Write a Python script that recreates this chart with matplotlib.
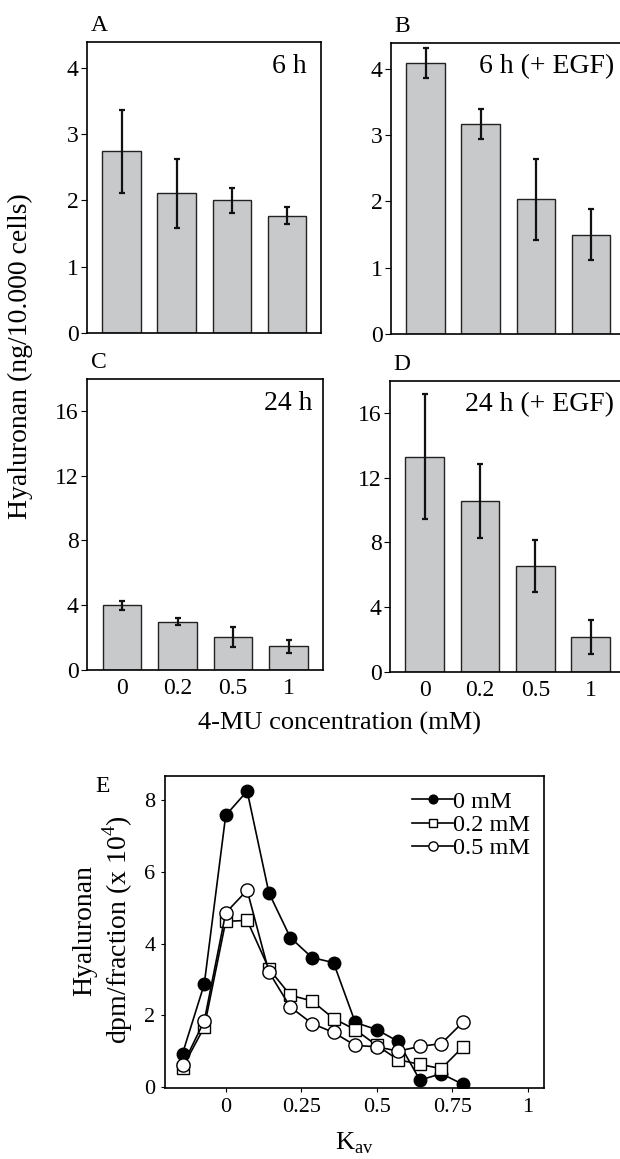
import matplotlib
matplotlib.use('Agg')
import matplotlib.pyplot as plt
import numpy as np

plt.rcParams['font.family'] = ['Liberation Serif', 'DejaVu Serif']

# bar panels A-D
conc_labels = ['0', '0.2', '0.5', '1']
a_vals = [2.74, 2.11, 2.0, 1.77]
a_err = [0.63, 0.52, 0.19, 0.13]
b_vals = [4.09, 3.17, 2.03, 1.50]
b_err = [0.23, 0.23, 0.61, 0.39]
c_vals = [3.99, 2.98, 2.04, 1.48]
c_err = [0.26, 0.22, 0.62, 0.40]
d_vals = [13.3, 10.56, 6.53, 2.16]
d_err = [3.85, 2.3, 1.6, 1.05]

# panel E, gel filtration profiles
kav = [-0.143, -0.071, 0.0, 0.071, 0.143, 0.214, 0.286, 0.357,
       0.429, 0.5, 0.571, 0.643, 0.714, 0.786]
hy_0 = [0.93, 2.87, 7.58, 8.26, 5.42, 4.17, 3.61, 3.47,
        1.80, 1.60, 1.27, 0.19, 0.37, 0.07]
hy_02 = [0.54, 1.67, 4.62, 4.65, 3.30, 2.56, 2.40, 1.91,
         1.60, 1.16, 0.76, 0.63, 0.51, 1.12]
hy_05 = [0.60, 1.84, 4.86, 5.49, 3.21, 2.23, 1.77, 1.52,
         1.16, 1.12, 1.0, 1.13, 1.21, 1.81]

W, H = 620, 1159
fig = plt.figure(figsize=(W / 100, H / 100), dpi=100)


def px_axes(left, right, top, bottom):
    return fig.add_axes([left / W, (H - bottom) / H, (right - left) / W, (bottom - top) / H])


def bar_panel(ax, vals, err, ylim, yticks, title, letter, xticks=False, tx=0.955):
    x = np.arange(len(vals))
    ax.bar(x, vals, width=0.7, color='#c8c9cb', edgecolor='#222222', linewidth=1.0)
    ax.errorbar(x, vals, yerr=err, fmt='none', ecolor='#111111', elinewidth=1.6,
                capsize=2, capthick=1.6)
    ax.set_xlim(-0.63, 3.62)
    ax.set_ylim(*ylim)
    ax.set_yticks(yticks)
    ax.tick_params(axis='y', direction='out', length=4, labelsize=17, pad=2)
    ax.tick_params(axis='x', length=0, labelsize=17, pad=6)
    ax.set_xticks(x)
    if xticks:
        ax.set_xticklabels(conc_labels)
    else:
        ax.set_xticklabels([])
    for s in ax.spines.values():
        s.set_linewidth(1.2)
    ax.text(tx, 0.895, title, transform=ax.transAxes, ha='right', va='baseline', fontsize=20)
    ax.text(0.015, 1.038, letter, transform=ax.transAxes, ha='left', va='baseline', fontsize=17)


ax_a = px_axes(87, 321, 42, 333)
bar_panel(ax_a, a_vals, a_err, (0, 4.39), [0, 1, 2, 3, 4], '6 h', 'A', tx=0.94)
ax_b = px_axes(391, 625, 43, 334)
bar_panel(ax_b, b_vals, b_err, (0, 4.39), [0, 1, 2, 3, 4], '6 h (+ EGF)', 'B')
ax_c = px_axes(87, 323, 379, 670)
bar_panel(ax_c, c_vals, c_err, (0, 17.97), [0, 4, 8, 12, 16], '24 h', 'C', xticks=True)
ax_d = px_axes(390, 625, 381, 672)
bar_panel(ax_d, d_vals, d_err, (0, 17.97), [0, 4, 8, 12, 16], '24 h (+ EGF)', 'D', xticks=True)

fig.text(20 / W, 1 - 356 / H, 'Hyaluronan (ng/10.000 cells)', rotation=90,
         ha='center', va='center', fontsize=20)
fig.text(339 / W, 1 - 723 / H, '4-MU concentration (mM)', ha='center', va='center', fontsize=19)

# panel E
ax_e = px_axes(165, 544, 776, 1088)
ax_e.plot(kav, hy_0, '-o', color='black', mfc='black', mec='black', ms=9, lw=1.2, label='0 mM')
ax_e.plot(kav, hy_02, '-s', color='black', mfc='white', mec='black', ms=8.5, lw=1.2, label='0.2 mM')
ax_e.plot(kav, hy_05, '-o', color='black', mfc='white', mec='black', ms=9.5, lw=1.2, label='0.5 mM')
ax_e.set_xlim(-0.201, 1.054)
ax_e.set_ylim(-0.03, 8.68)
ax_e.set_xticks([0, 0.25, 0.5, 0.75, 1])
ax_e.set_xticklabels(['0', '0.25', '0.5', '0.75', '1'])
ax_e.set_yticks([0, 2, 4, 6, 8])
ax_e.tick_params(direction='out', length=3, labelsize=16, pad=4)
for s in ax_e.spines.values():
    s.set_linewidth(1.2)
ax_e.legend(loc='upper left', bbox_to_anchor=((412 - 165) / 379, 0.952), frameon=False, fontsize=17.5,
            handlelength=1.7, handletextpad=0.0, labelspacing=0.05, borderpad=0.0,
            borderaxespad=0.0, markerscale=0.7)
ax_e.text(-0.185, 1.0, 'E', transform=ax_e.transAxes, ha='left', va='top', fontsize=17)
ax_e.set_xlabel('K$_{\\mathregular{av}}$', fontsize=19, labelpad=10)
fig.text(85 / W, 1 - 930 / H, 'Hyaluronan', rotation=90, ha='center', va='center', fontsize=20)
fig.text(118 / W, 1 - 930 / H, 'dpm/fraction (x 10$^{\\mathregular{4}}$)', rotation=90,
         ha='center', va='center', fontsize=20)

fig.savefig('out.png', dpi=100)
